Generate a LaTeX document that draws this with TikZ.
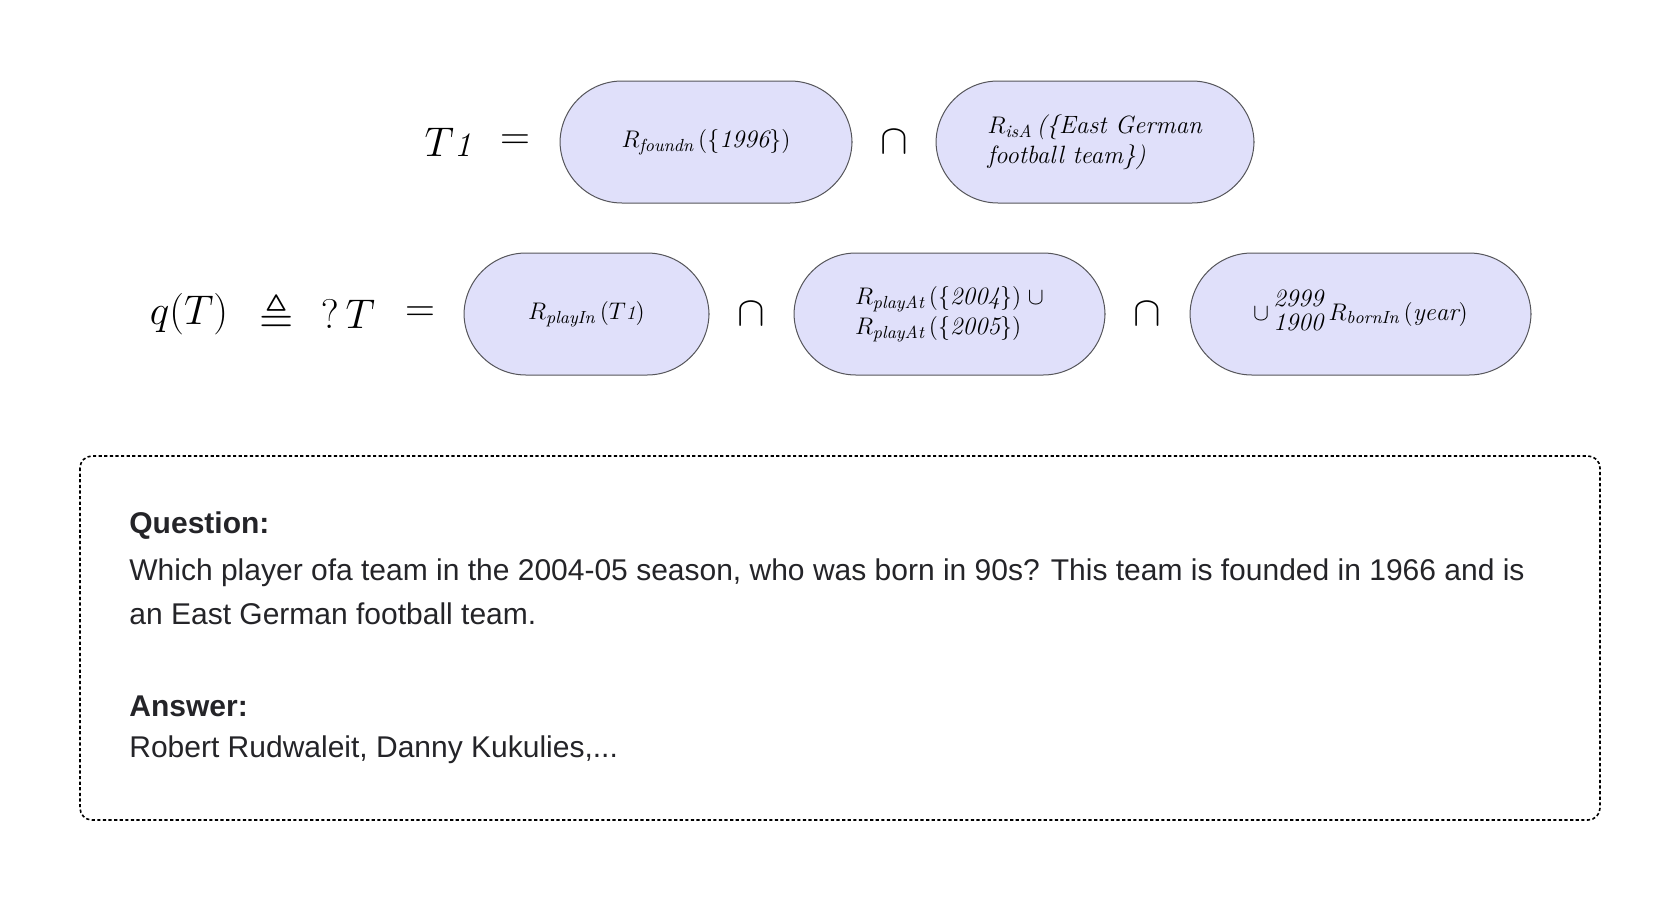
\documentclass[tikz,border=0pt]{standalone}
\usepackage{amsmath, amssymb}
\usepackage{xcolor}
\usepackage{fontspec}
\setsansfont{Liberation Sans}
\usepackage{tikz}
\usetikzlibrary{calc}

\definecolor{pillfill}{RGB}{224,224,250}
\definecolor{pillline}{RGB}{85,85,90}
\definecolor{qagray}{RGB}{36,36,40}

\newcommand{\tone}{T\scalebox{0.78}{$\mathit{1}$}}

\tikzset{
	pill/.style = {draw = pillline, fill = pillfill, line width = 0.5pt, rounded corners = 31pt, minimum height = 61pt, inner sep = 0pt, align = left, font = \fontsize{12.5}{15}\selectfont},
	bigmath/.style = {font = \fontsize{22}{24}\selectfont},
	qatext/.style = {anchor = west, align = left, inner sep = 0pt, text = qagray, font = \sffamily\fontsize{15}{22}\selectfont},
	qahead/.style = {qatext, font = \sffamily\bfseries\fontsize{15}{22}\selectfont}
}

\begin{document}
\begin{tikzpicture}[x = 0.5pt, y = -0.5pt]
		\def\rowa{142}
		\def\rowb{314}
		
		\useasboundingbox (0,0) rectangle (1680,900);
		
		\node [bigmath] (tone) at (448,\rowa) {$\tone$};
		\node [bigmath] (eqa) at (515,\rowa) {$=$};
		\node [pill, minimum width = 146pt] (found) at (706,\rowa) {$R_{\mathit{foundn}}\,(\{\mathit{1996}\})$};
		\node [bigmath] (capa) at (894,\rowa) {$\cap$};
		\node [pill, minimum width = 159pt] (isa) at (1095,\rowa) {$R_{\mathit{isA}}\,$\textit{(\{East German}\\\textit{football team\})}};
		
		\node [bigmath] (qt) at (189,\rowb) {$q(T)$};
		\node [bigmath] (defeq) at (277,\rowb) {$\triangleq$};
		\node [bigmath] (qmark) at (348,\rowb) {$?\,T$};
		\node [bigmath] (eqb) at (420,\rowb) {$=$};
		\node [pill, minimum width = 122.5pt] (playin) at (586.5,\rowb) {$R_{\mathit{playIn}}\,(\tone)$};
		\node [bigmath] (capb) at (751,\rowb) {$\cap$};
		\node [pill, minimum width = 155.5pt] (playat) at (949.5,\rowb) {$R_{\mathit{playAt}}\,(\{\mathit{2004}\})\;\cup$\\$R_{\mathit{playAt}}\,(\{\mathit{2005}\})$};
		\node [bigmath] (capc) at (1147,\rowb) {$\cap$};
		\node [pill, minimum width = 170.5pt] (bornin) at (1360.5,\rowb) {$\cup$\,{\def\arraystretch{0.78}\begin{tabular}[c]{@{}l@{}}\textit{2999}\\\textit{1900}\end{tabular}}\,$R_{\mathit{bornIn}}\,(\mathit{year})$};
		
		\draw [line width = 0.8pt, dash pattern = on 1.6pt off 1.2pt, rounded corners = 6pt] (80,456) rectangle (1600,820);
		
		\node [qahead] (qhead) at (129,526) {Question:};
		\node [qatext] (qbody) at (129,592) {Which player ofa team in the 2004-05 season, who was born in 90s? This team is founded in 1966 and is\\an East German football team.};
		\node [qahead] (ahead) at (129,706) {Answer:};
		\node [qatext] (abody) at (129,750) {Robert Rudwaleit, Danny Kukulies,...};
	\end{tikzpicture}
\end{document}
